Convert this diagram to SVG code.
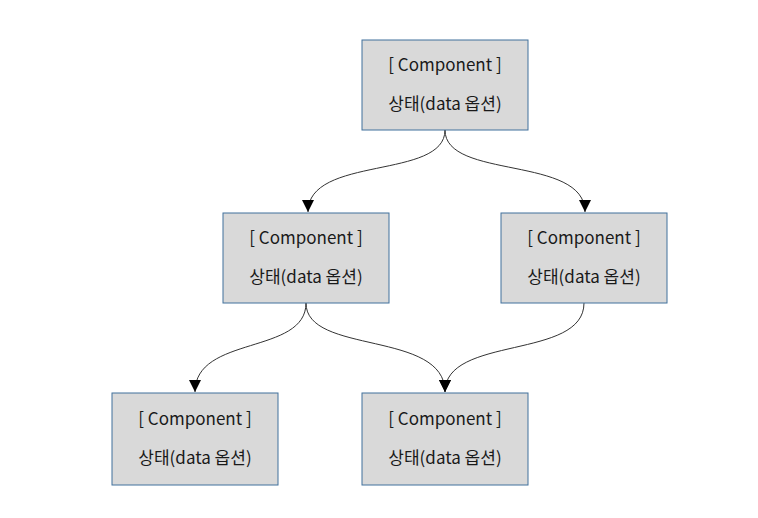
<svg xmlns="http://www.w3.org/2000/svg" width="758" height="518" viewBox="0 0 758 518">
<style>
.box{fill:#d9d9d9;stroke:#41719c;stroke-width:1}
.t{font-family:"Noto Sans CJK KR","Malgun Gothic","Noto Sans",sans-serif;font-size:17px;fill:#1a1a1a;text-anchor:middle}
.c{fill:none;stroke:#333;stroke-width:1}
</style>
<defs>
<marker id="ah" markerWidth="12" markerHeight="12" refX="10" refY="5" orient="auto" markerUnits="userSpaceOnUse" viewBox="0 0 10 10">
<path d="M0,0 L10,5 L0,10 Z" fill="#000"/>
</marker>
</defs>
<rect width="758" height="518" fill="#fff"/>
<g id="connectors">
<path class="c" d="M445,130 C445,180 308,155 308,212" marker-end="url(#ah)"/>
<path class="c" d="M445,130 C445,180 585,155 585,212" marker-end="url(#ah)"/>
<path class="c" d="M306,303 C306,355 195,335 195,392" marker-end="url(#ah)"/>
<path class="c" d="M306,303 C306,355 445,330 445,392" marker-end="url(#ah)"/>
<path class="c" d="M584,303 C584,360 445,335 445,392" marker-end="url(#ah)"/>
</g>
<g id="n1"><rect class="box" x="362" y="40" width="166" height="90"/><text class="t" x="445" y="71">[ Component ]</text><text class="t" x="445" y="110">상태(data 옵션)</text></g>
<g id="n2"><rect class="box" x="223" y="213" width="166" height="90"/><text class="t" x="306" y="244">[ Component ]</text><text class="t" x="306" y="283">상태(data 옵션)</text></g>
<g id="n3"><rect class="box" x="501" y="213" width="166" height="90"/><text class="t" x="584" y="244">[ Component ]</text><text class="t" x="584" y="283">상태(data 옵션)</text></g>
<g id="n4"><rect class="box" x="112" y="393" width="166" height="92"/><text class="t" x="195" y="425">[ Component ]</text><text class="t" x="195" y="464">상태(data 옵션)</text></g>
<g id="n5"><rect class="box" x="362" y="393" width="166" height="92"/><text class="t" x="445" y="425">[ Component ]</text><text class="t" x="445" y="464">상태(data 옵션)</text></g>
</svg>
